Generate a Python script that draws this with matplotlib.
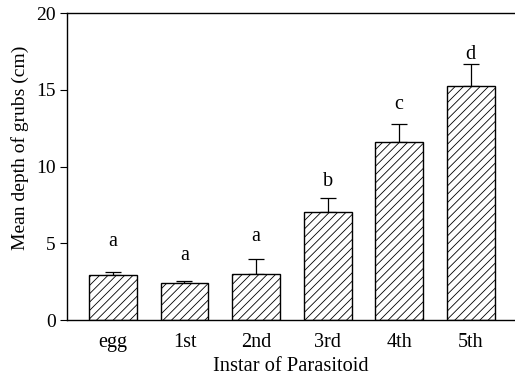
import numpy as np
import matplotlib
matplotlib.use("Agg")
import matplotlib.pyplot as plt

instars = ["egg", "1st", "2nd", "3rd", "4th", "5th"]
depth = [2.95, 2.4, 3.0, 7.05, 11.6, 15.25]
se = [0.2, 0.15, 1.0, 0.9, 1.15, 1.45]
letters = ["a", "a", "a", "b", "c", "d"]
letter_y = [5.1, 4.2, 5.45, 9.0, 14.05, 17.3]

plt.rcParams["font.family"] = "Liberation Serif"
plt.rcParams["hatch.linewidth"] = 0.6

fig = plt.figure(figsize=(5.15, 3.77), dpi=100)
ax = fig.add_axes([0.130, 0.151, 0.870, 0.8145])

x = np.arange(len(instars))
ax.bar(x, depth, width=0.67, color="white", edgecolor="black", linewidth=1.0,
       hatch="////", zorder=2)
ax.errorbar(x, depth, yerr=[np.zeros(len(se)), se], fmt="none", ecolor="black",
            elinewidth=0.9, capsize=6, capthick=0.9, zorder=1)

for xi, lab, ly in zip(x, letters, letter_y):
    ax.text(xi, ly, lab, ha="center", va="center", fontsize=14.5)

ax.set_xlim(-0.643, 5.62)
ax.set_ylim(0, 20)
ax.set_yticks([0, 5, 10, 15, 20])
ax.set_xticks(x)
ax.set_xticklabels(instars)
ax.tick_params(axis="x", length=0, labelsize=14.5, pad=9)
ax.tick_params(axis="y", length=5, labelsize=14, pad=3)
ax.spines["right"].set_visible(False)
for s in ["left", "bottom", "top"]:
    ax.spines[s].set_linewidth(1.0)

ax.set_xlabel("Instar of Parasitoid", fontsize=14.7, labelpad=4)
ax.set_ylabel("Mean depth of grubs (cm)", fontsize=14)
ax.yaxis.set_label_coords(-0.085, 0.56)

fig.savefig("out.png", dpi=100)
